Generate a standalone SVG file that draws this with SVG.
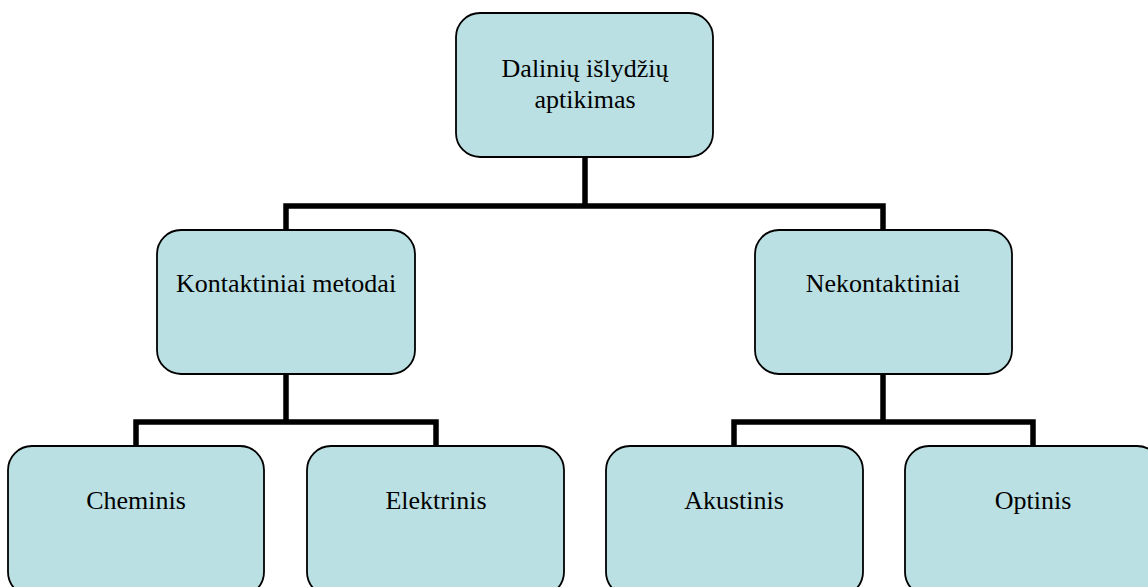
<svg xmlns="http://www.w3.org/2000/svg" width="1148" height="587" viewBox="0 0 1148 587">
<style>
.box{fill:#bbe0e3;stroke:#000;stroke-width:1.8}
.lbl{font-family:"Liberation Serif","Times New Roman",serif;font-size:26px;fill:#000;text-anchor:middle}
.conn{fill:none;stroke:#000;stroke-width:5.5;stroke-linejoin:miter;stroke-linecap:butt}
</style>
<rect width="1148" height="587" fill="#fff"/>
<g id="connectors">
<path class="conn" d="M585,157 V206 M286,230 V206 H883 V230"/>
<path class="conn" d="M286,374 V422 M136,446 V422 H436 V446"/>
<path class="conn" d="M883,374 V422 M734,446 V422 H1033 V446"/>
</g>
<g id="root">
<rect class="box" x="456" y="13" width="257" height="144" rx="24"/>
<text class="lbl" x="585" y="77">Dalinių išlydžių</text>
<text class="lbl" x="585" y="108">aptikimas</text>
</g>
<g id="kontaktiniai">
<rect class="box" x="157" y="230" width="258" height="144" rx="24"/>
<text class="lbl" x="286" y="292">Kontaktiniai metodai</text>
</g>
<g id="nekontaktiniai">
<rect class="box" x="755" y="230" width="257" height="144" rx="24"/>
<text class="lbl" x="883" y="292">Nekontaktiniai</text>
</g>
<g id="cheminis">
<rect class="box" x="8" y="446" width="256" height="150" rx="24"/>
<text class="lbl" x="136" y="509">Cheminis</text>
</g>
<g id="elektrinis">
<rect class="box" x="307" y="446" width="257" height="150" rx="24"/>
<text class="lbl" x="436" y="509">Elektrinis</text>
</g>
<g id="akustinis">
<rect class="box" x="606" y="446" width="257" height="150" rx="24"/>
<text class="lbl" x="734" y="509">Akustinis</text>
</g>
<g id="optinis">
<rect class="box" x="905" y="446" width="256" height="150" rx="24"/>
<text class="lbl" x="1033" y="509">Optinis</text>
</g>
</svg>
